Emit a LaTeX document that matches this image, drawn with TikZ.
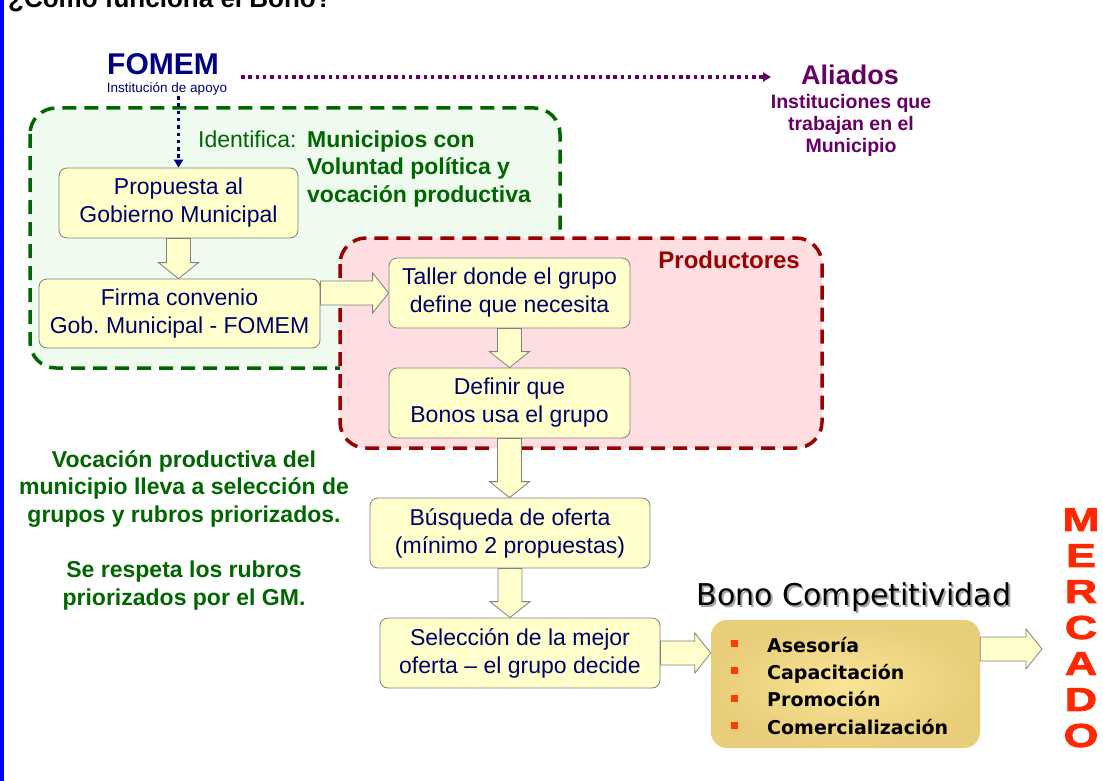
\documentclass[tikz,border=0pt]{standalone}
\usepackage{fontspec}
\setmainfont{Liberation Sans}
\newfontfamily\tahoma{DejaVu Sans}
\newfontfamily\gruesa[BoldFeatures={FakeBold=2.5,FakeStretch=1.35}]{Liberation Sans}
\usepackage{tikz}
\usetikzlibrary{arrows,arrows.meta,calc,shapes}
\definecolor{azulfomem}{RGB}{0,0,128}
\definecolor{azulcaja}{RGB}{0,0,105}
\definecolor{morado}{RGB}{102,0,102}
\definecolor{verde}{RGB}{0,102,0}
\definecolor{verdefondo}{RGB}{238,251,238}
\definecolor{rojoborde}{RGB}{153,0,0}
\definecolor{rosafondo}{RGB}{255,222,226}
\definecolor{amarillo}{RGB}{255,255,204}
\definecolor{gris}{RGB}{128,128,128}
\definecolor{doradoclaro}{RGB}{250,228,150}
\definecolor{doradooscuro}{RGB}{232,205,122}
\definecolor{rojomercado}{RGB}{255,40,0}
\definecolor{naranja}{RGB}{255,60,0}
\newcommand{\letra}[2]{\fontsize{#1}{#2}\selectfont}
\newcommand{\bala}{\textcolor{naranja}{\rule[5pt]{7pt}{7pt}}\hspace{29pt}}
\tikzstyle{caja}=[draw=gris, fill=amarillo, rounded corners=8pt, line width=0.8pt, text=azulcaja, align=center, inner sep=0pt, font=\letra{23}{28}]
\tikzstyle{flechagorda}=[draw=gris, fill=amarillo, line width=0.8pt, line join=miter]
% flechas gruesas: hacia abajo y hacia la derecha
\newcommand{\flechaabajo}[2]{\path[flechagorda] let \p1=#1, \p2=#2 in
  (\x1-12pt,\y1) -- (\x1-12pt,\y2+16pt) -- (\x1-20pt,\y2+16pt) -- (\x1,\y2)
  -- (\x1+20pt,\y2+16pt) -- (\x1+12pt,\y2+16pt) -- (\x1+12pt,\y1) -- cycle;}
\newcommand{\flechader}[2]{\path[flechagorda] let \p1=#1, \p2=#2 in
  (\x1,\y1-12pt) -- (\x2-16pt,\y1-12pt) -- (\x2-16pt,\y1-20pt) -- (\x2,\y1)
  -- (\x2-16pt,\y1+20pt) -- (\x2-16pt,\y1+12pt) -- (\x1,\y1+12pt) -- cycle;}

\begin{document}
\begin{tikzpicture}[x=1pt,y=-1pt,
    zona/.style={line width=3.5pt, dash pattern=on 14pt off 8pt, rounded corners=26pt},
    punteada/.style={line width=3.5pt, dash pattern=on 3.5pt off 3.8pt, -{Triangle[length=8pt,width=9pt]}},
    texto/.style={inner sep=0pt, anchor=base}]
  \useasboundingbox (0,0) rectangle (1103,781);
  \fill[blue] (0,0) rectangle (4,781);
  \node[texto, anchor=base west, font=\bfseries\letra{26}{30}] (pregunta) at (8,8) {¿Cómo funciona el Bono?};

  % zonas
  \path[zona, draw=verde, fill=verdefondo] (30,108) rectangle (560,368);
  \path[zona, draw=rojoborde, fill=rosafondo] (340,238) rectangle (822,448);

  % FOMEM y aliados
  \node[texto, text=azulfomem, font=\bfseries\letra{30}{34}] (fomem) at (163,75) {FOMEM};
  \node[texto, text=azulfomem, font=\letra{13.5}{16}] (apoyo) at (167,93) {Institución de apoyo};
  \node[texto, text=morado, font=\bfseries\letra{27}{30}] (aliados) at (850,85) {Aliados};
  \node[texto, text=morado, align=center, font=\bfseries\letra{19.5}{22}] (instituciones) at (851,153)
    {Instituciones que\\trabajan en el\\Municipio};

  \node[texto, anchor=base west, text=verde, font=\letra{23}{28}] (identifica) at (198,147) {Identifica:};
  \node[texto, anchor=base west, text=verde, align=left, font=\bfseries\letra{23}{27.5}] (municipios) at (307,202)
    {Municipios con\\Voluntad política y\\vocación productiva};
  \node[texto, anchor=base east, text=rojoborde, font=\bfseries\letra{24}{28}] (productores) at (800,268) {Productores};

  % cajas
  \node[caja, minimum width=239pt, minimum height=70pt] (propuesta) at (178.5,203) {Propuesta al\\Gobierno Municipal};
  \node[caja, minimum width=281pt, minimum height=69pt] (firma) at (179.5,313.5) {Firma convenio\\Gob.\ Municipal - FOMEM};
  \node[caja, minimum width=241pt, minimum height=70pt] (taller) at (509.5,293) {Taller donde el grupo\\define que necesita};
  \node[caja, minimum width=241pt, minimum height=70pt] (definir) at (509.5,403) {Definir que\\Bonos usa el grupo};
  \node[caja, minimum width=280pt, minimum height=70pt] (busqueda) at (510,533) {Búsqueda de oferta\\(mínimo 2 propuestas)};
  \node[caja, minimum width=280pt, minimum height=70pt] (seleccion) at (520,653) {Selección de la mejor\\oferta -- el grupo decide};

  \node[texto, text=verde, align=center, font=\bfseries\letra{23}{27.5}] (vocacion) at (184,522)
    {Vocación productiva del\\municipio lleva a selección de\\grupos y rubros priorizados.};
  \node[texto, text=verde, align=center, font=\bfseries\letra{23}{27.5}] (respeta) at (184,605)
    {Se respeta los rubros\\priorizados por el GM.};

  % bono
  \node[texto, text=gris!70, font=\tahoma\letra{30}{34}] (sombra) at (856,607) {Bono Competitividad};
  \node[texto, font=\tahoma\letra{30}{34}] (titulobono) at (854,605) {Bono Competitividad};
  \node[rounded corners=16pt, inner color=doradoclaro, outer color=doradooscuro,
        minimum width=269pt, minimum height=128pt] (bono) at (845.5,684) {};
  \node[texto, anchor=base west, align=left, font=\tahoma\bfseries\letra{19}{27.3}] (servicios) at (731,734)
    {\bala Asesoría\\\bala Capacitación\\\bala Promoción\\\bala Comercialización};

  \node[inner sep=0pt, anchor=north, align=center, text=rojomercado, font=\gruesa\bfseries\letra{33}{36}] (mercado) at (1081,508)
    {M\\E\\R\\C\\A\\D\\O};
  \coordinate (entrada) at (1042,649);

  % conectores
  \draw[punteada, draw=azulfomem] (propuesta.north |- apoyo.south) -- (propuesta.north);
  \draw[punteada, draw=morado] ([shift={(22,2)}]fomem.base east) -- ([xshift=-30pt]aliados.base west |- 0,77);
  \flechaabajo{(propuesta.south)}{(firma.north)}
  \flechader{(firma.east |- taller.west)}{(taller.west)}
  \flechaabajo{(taller.south)}{(definir.north)}
  \flechaabajo{(definir.south)}{(busqueda.north)}
  \flechaabajo{(busqueda.south)}{(busqueda.south |- seleccion.north)}
  \flechader{(seleccion.east)}{(seleccion.east -| bono.west)}
  \flechader{(bono.east |- entrada)}{(entrada)}
\end{tikzpicture}
\end{document}
